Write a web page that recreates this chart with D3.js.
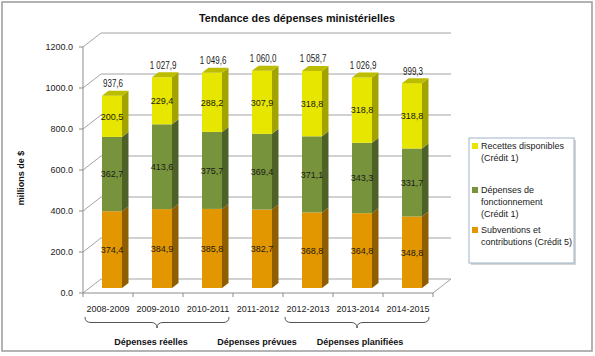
<!DOCTYPE html>
<html><head><meta charset="utf-8">
<script src="https://cdn.jsdelivr.net/npm/d3@7/dist/d3.min.js"></script>
<style>
html,body{margin:0;padding:0;background:#fff;}
svg{display:block;font-family:"Liberation Sans",Arial,sans-serif;}
</style></head>
<body>
<svg id="chart" width="595" height="356"></svg>
<script>
// ---- data ----
const categories = ["2008-2009","2009-2010","2010-2011","2011-2012","2012-2013","2013-2014","2014-2015"];
const subventions = [374.4, 384.9, 385.8, 382.7, 368.8, 364.8, 348.8];
const fonctionnement = [362.7, 413.6, 375.7, 369.4, 371.1, 343.3, 331.7];
const recettes = [200.5, 229.4, 288.2, 307.9, 318.8, 318.8, 318.8];
const totals = [937.6, 1027.9, 1049.6, 1060.0, 1058.7, 1026.9, 999.3];
const yTicks = [0, 200, 400, 600, 800, 1000, 1200];
const seriesNames = ["Subventions et contributions (Crédit 5)", "Dépenses de fonctionnement (Crédit 1)", "Recettes disponibles (Crédit 1)"];
const legendLines = [["Recettes disponibles","(Crédit 1)"],["Dépenses de","fonctionnement","(Crédit 1)"],["Subventions et","contributions (Crédit 5)"]];
const groups = [{label:"Dépenses réelles", from:0, to:2, brace:true, shift:-6},{label:"Dépenses prévues", from:3, to:3, brace:false, shift:0},{label:"Dépenses planifiées", from:4, to:6, brace:true, shift:3}];
const title = "Tendance des dépenses ministérielles";
const yTitle = "millions de $";

// ---- styles ----
const colors = [
  {front:"#E29600", side:"#8F5E00", top:"#B87A00"},
  {front:"#77933C", side:"#4E6228", top:"#60782F"},
  {front:"#E6E600", side:"#A3A300", top:"#BDBD00"}
];
const series = [subventions, fonctionnement, recettes];

const svg = d3.select("#chart");

// outer border
svg.append("rect").attr("x",2).attr("y",2).attr("width",590).attr("height",349)
  .attr("fill","#fff").attr("stroke","#9a9a9a").attr("stroke-width",1.5);

// scales
const x = d3.scaleBand().domain(categories).range([83, 433]).padding(0);
const y = d3.scaleLinear().domain([0, 1200]).range([293, 47]);
const depthX = 18, depthY = -14;     // wall depth
const barOffX = 4, barOffY = -5;     // bar front offset inside box
const barDX = 6.5, barDY = -5;       // bar depth
const barW = 20;

const g = svg.append("g");

// gridlines: back wall + side wall
const gridColor = "#a3a3a3";
yTicks.forEach(t => {
  const yf = y(t);
  g.append("line").attr("x1",83).attr("y1",yf).attr("x2",83+depthX).attr("y2",yf+depthY)
    .attr("stroke",gridColor).attr("stroke-width",1);
  g.append("line").attr("x1",83+depthX).attr("y1",yf+depthY).attr("x2",433+depthX).attr("y2",yf+depthY)
    .attr("stroke",gridColor).attr("stroke-width",1);
});
// floor right edge
g.append("line").attr("x1",433).attr("y1",y(0)).attr("x2",433+depthX).attr("y2",y(0)+depthY)
  .attr("stroke",gridColor).attr("stroke-width",1);

// axes lines
g.append("line").attr("x1",83).attr("y1",y(0)).attr("x2",83).attr("y2",y(1200)).attr("stroke","#8c8c8c");
g.append("line").attr("x1",83).attr("y1",y(0)).attr("x2",433).attr("y2",y(0)).attr("stroke","#8c8c8c");
yTicks.forEach(t => {
  g.append("line").attr("x1",79).attr("x2",83).attr("y1",y(t)).attr("y2",y(t)).attr("stroke","#8c8c8c");
  g.append("text").attr("x",73).attr("y",y(t)).attr("dy","0.35em").attr("text-anchor","end")
    .attr("font-size",9).attr("fill","#222").text(d3.format(".1f")(t));
});
categories.forEach((c,i) => {
  g.append("line").attr("x1",x(c)).attr("x2",x(c)).attr("y1",y(0)).attr("y2",y(0)+4).attr("stroke","#8c8c8c");
  if (i === categories.length-1)
    g.append("line").attr("x1",x(c)+x.bandwidth()).attr("x2",x(c)+x.bandwidth()).attr("y1",y(0)).attr("y2",y(0)+4).attr("stroke","#8c8c8c");
  g.append("text").attr("x",x(c)+x.bandwidth()/2).attr("y",y(0)+19).attr("text-anchor","middle")
    .attr("font-size",9).attr("fill","#222").text(c);
});

// bars
const fr = d3.formatLocale({decimal:",", thousands:"\u00a0", grouping:[3]});
const fmt = fr.format(",.1f");
categories.forEach((c,i) => {
  const x0 = x(c) + x.bandwidth()/2 - barW/2 + barOffX;
  let base = 0;
  series.forEach((s,k) => {
    const v = s[i];
    const yb = y(base) + barOffY, yt = y(base+v) + barOffY;
    const col = colors[k];
    g.append("rect").attr("x",x0).attr("y",yt).attr("width",barW).attr("height",yb-yt).attr("fill",col.front);
    g.append("polygon").attr("points",[[x0+barW,yt],[x0+barW+barDX,yt+barDY],[x0+barW+barDX,yb+barDY],[x0+barW,yb]].map(p=>p.join(",")).join(" "))
      .attr("fill",col.side);
    if (k === series.length-1) {
      g.append("polygon").attr("points",[[x0,yt],[x0+barDX,yt+barDY],[x0+barW+barDX,yt+barDY],[x0+barW,yt]].map(p=>p.join(",")).join(" "))
        .attr("fill",col.top);
    }
    g.append("text").attr("transform",`translate(${x0+barW/2},${(yb+yt)/2}) scale(0.95,1)`)
      .attr("dy","0.35em").attr("text-anchor","middle").attr("font-size",9.5).attr("fill","#1a1a1a")
      .text(fmt(v));
    base += v;
  });
  const ytop = y(base) + barOffY;
  g.append("text").attr("transform",`translate(${x0+barW/2+1},${ytop-8.5}) scale(0.8,1)`)
    .attr("text-anchor","middle").attr("font-size",10).attr("fill","#1a1a1a").text(fmt(totals[i]));
});

// title
svg.append("text").attr("x",297).attr("y",22).attr("text-anchor","middle").attr("font-size",10.8)
  .attr("font-weight","bold").attr("fill","#111").text(title);
// y title
svg.append("text").attr("transform","translate(24,178) rotate(-90)").attr("text-anchor","middle")
  .attr("font-size",9).attr("font-weight","bold").attr("fill","#111").text(yTitle);

// braces and group labels
function bracePath(x1, x2, yTop, h) {
  const mid = (x1+x2)/2, ym = yTop + h/2, r = 6;
  return `M${x1},${yTop} Q${x1},${ym} ${x1+r},${ym} L${mid-r},${ym} Q${mid},${ym} ${mid},${yTop+h} Q${mid},${ym} ${mid+r},${ym} L${x2-r},${ym} Q${x2},${ym} ${x2},${yTop}`;
}
groups.forEach(gr => {
  const x1 = x(categories[gr.from]) + 2, x2 = x(categories[gr.to]) + x.bandwidth() - 4;
  if (gr.brace) {
    svg.append("path").attr("d", bracePath(x1, x2, 317, 11)).attr("fill","none")
      .attr("stroke","#555").attr("stroke-width",1);
  }
  svg.append("text").attr("x",(x1+x2)/2 + gr.shift).attr("y",345).attr("text-anchor","middle")
    .attr("font-size",9).attr("font-weight","bold").attr("fill","#111").text(gr.label);
});

// legend
const lg = svg.append("g");
lg.append("rect").attr("x",471).attr("y",140).attr("width",105).attr("height",125).attr("fill","#d4d4d4");
lg.append("rect").attr("x",469).attr("y",138).attr("width",105).attr("height",125).attr("fill","#fff")
  .attr("stroke","#9fb3c8").attr("stroke-width",1);
const legendOrder = [2,1,0];
const legendTop = [146, 190, 230];
legendOrder.forEach((k,j) => {
  const yy = legendTop[j];
  lg.append("rect").attr("x",472).attr("y",yy-3).attr("width",6).attr("height",6).attr("fill",colors[k].front);
  legendLines[j].forEach((ln,m) => {
    lg.append("text").attr("x",481).attr("y",yy + m*12).attr("dy","0.35em").attr("font-size",9)
      .attr("fill","#1a1a1a").text(ln);
  });
});
</script>
</body></html>
